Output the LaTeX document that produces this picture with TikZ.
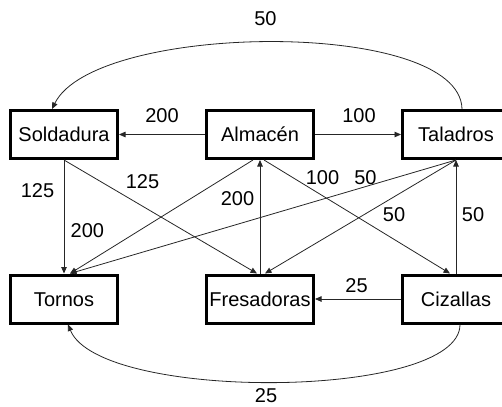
\documentclass[tikz,border=0pt]{standalone}
\usepackage{fontspec}
\setmainfont{Liberation Sans}
\usetikzlibrary{positioning,arrows.meta}

\begin{document}
\begin{tikzpicture}[x=1pt, y=-1pt, on grid, node distance=196pt,
    maq/.style={draw, line width=3pt, minimum width=107pt, minimum height=48pt,
        inner sep=0pt, text height=14.4pt, text depth=0pt, font=\fontsize{20}{24}\selectfont},
    num/.style={inner sep=0pt, font=\fontsize{20}{24}\selectfont},
    flujo/.style={draw=black!85, line width=0.8pt, -{Triangle[length=6.5pt,width=5.5pt]}}]
    \useasboundingbox (0,0) rectangle (502,406);
    \node[maq] (sold) at (64,134.5) {Soldadura};
    \node[maq, right=of sold] (alm) {Almacén};
    \node[maq, right=of alm] (tal) {Taladros};
    \node[maq, below=164.5pt of sold] (torn) {Tornos};
    \node[maq, below=164.5pt of alm] (fres) {Fresadoras};
    \node[maq, below=164.5pt of tal] (ciz) {Cizallas};
    % flujos
    \draw[flujo] (alm.west) -- node[num, pos=.5, yshift=19pt] {200} (sold.east);
    \draw[flujo] (alm.east) -- node[num, pos=.5, xshift=1pt, yshift=19pt] {100} (tal.west);
    \draw[flujo] ([xshift=6pt]tal.north) .. controls (460,18) and (95,22) .. node[num, pos=.5, xshift=-7pt, yshift=24pt] {50} ([xshift=-12pt]sold.north);
    \draw[flujo] (sold.south) -- node[num, pos=.27, xshift=-26.5pt] {125} (torn.north);
    \draw[flujo] (sold.south) -- node[num, pos=.407, yshift=24.7pt] {125} ([xshift=-3pt]fres.north);
    \draw[flujo] ([xshift=-7pt]alm.south) -- node[num, pos=.621, xshift=-52pt] {200} ([xshift=6pt]torn.north);
    \draw[flujo] (fres.north) -- node[num, pos=.66, xshift=-22.5pt] {200} (alm.south);
    \draw[flujo] ([xshift=4pt]alm.south) -- node[num, pos=.3145, yshift=18.2pt] {100} ([xshift=-6pt]ciz.north);
    \draw[flujo] (tal.south) -- node[num, pos=.2345, yshift=9.1pt] {50} ([xshift=6pt]torn.north);
    \draw[flujo] (tal.south) -- node[num, pos=.3246, yshift=-18.2pt] {50} ([xshift=5pt]fres.north);
    \draw[flujo] (ciz.north) -- node[num, pos=.515, xshift=17pt] {50} (tal.south);
    \draw[flujo] (ciz.west) -- node[num, pos=.517, yshift=13.5pt] {25} (fres.east);
    \draw[flujo] ([xshift=4pt]ciz.south) .. controls (460,400) and (100,402) .. node[num, pos=.5, xshift=-10pt, yshift=-13.5pt] {25} ([xshift=4pt]torn.south);
\end{tikzpicture}
\end{document}
